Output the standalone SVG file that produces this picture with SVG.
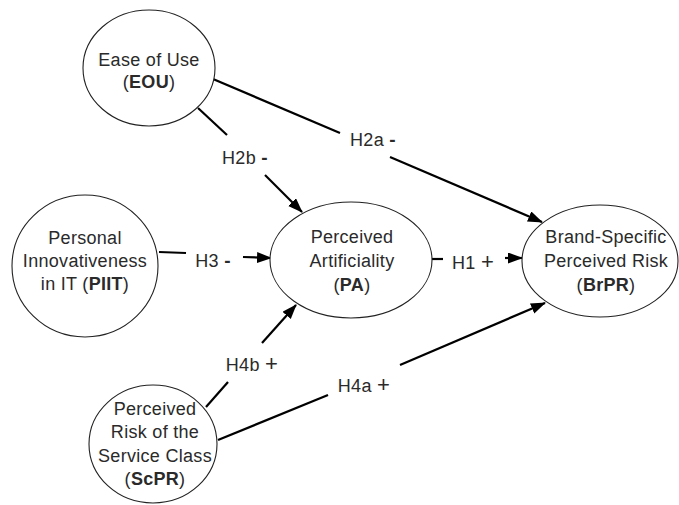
<svg xmlns="http://www.w3.org/2000/svg" width="679" height="505" viewBox="0 0 679 505">
<style>
.node{fill:#fff;stroke:#222;stroke-width:1.1}
text{font-family:"Liberation Sans",Arial,Helvetica,sans-serif;font-size:18px;fill:#2a2a2a;text-anchor:middle;letter-spacing:0.3px}
.b{font-weight:bold}
.p{font-size:22px}
.m{font-weight:bold;font-size:19px}
.c{fill:none;stroke:#000;stroke-width:2.2}
</style>
<defs>
<marker id="ah" markerUnits="userSpaceOnUse" markerWidth="16" markerHeight="12" refX="14" refY="5.5" orient="auto">
<path d="M0,0 L15,5.5 L0,11 z" fill="#000"/>
</marker>
</defs>
<rect width="679" height="505" fill="#fff"/>
<g id="connectors">
<line class="c" x1="213" y1="79" x2="340" y2="133"/>
<line class="c" x1="390" y1="157" x2="542" y2="222" marker-end="url(#ah)"/>
<line class="c" x1="198" y1="108" x2="227" y2="135"/>
<line class="c" x1="265" y1="175" x2="302" y2="212" marker-end="url(#ah)"/>
<line class="c" x1="159" y1="252" x2="186" y2="253"/>
<line class="c" x1="243" y1="257" x2="271" y2="258" marker-end="url(#ah)"/>
<line class="c" x1="432" y1="259" x2="443" y2="259"/>
<line class="c" x1="505" y1="258" x2="522" y2="258" marker-end="url(#ah)"/>
<line class="c" x1="206" y1="407" x2="228" y2="382"/>
<line class="c" x1="262" y1="343" x2="296" y2="305" marker-end="url(#ah)"/>
<line class="c" x1="218" y1="440" x2="328" y2="395"/>
<line class="c" x1="400" y1="365" x2="545" y2="303" marker-end="url(#ah)"/>
<text x="245" y="164">H2b <tspan class="m">-</tspan></text>
<text x="373" y="146">H2a <tspan class="m">-</tspan></text>
<text x="213" y="267">H3 <tspan class="m">-</tspan></text>
<text x="473" y="269">H1 <tspan class="p">+</tspan></text>
<text x="252" y="371">H4b <tspan class="p">+</tspan></text>
<text x="364" y="392">H4a <tspan class="p">+</tspan></text>
</g>
<g id="EOU">
<ellipse class="node" cx="149" cy="68" rx="66" ry="58"/>
<text x="149" y="66">Ease of Use</text>
<text x="149" y="88">(<tspan class="b">EOU</tspan>)</text>
</g>
<g id="PIIT">
<ellipse class="node" cx="85" cy="266" rx="73" ry="71"/>
<text x="85" y="244">Personal</text>
<text x="85" y="267">Innovativeness</text>
<text x="85" y="290">in IT (<tspan class="b">PIIT</tspan>)</text>
</g>
<g id="PA">
<ellipse class="node" cx="351" cy="260" rx="81" ry="58"/>
<text x="352" y="243">Perceived</text>
<text x="352" y="267">Artificiality</text>
<text x="352" y="291">(<tspan class="b">PA</tspan>)</text>
</g>
<g id="BrPR">
<ellipse class="node" cx="600" cy="261" rx="78" ry="56"/>
<text x="606" y="243">Brand-Specific</text>
<text x="606" y="267">Perceived Risk</text>
<text x="606" y="291">(<tspan class="b">BrPR</tspan>)</text>
</g>
<g id="ScPR">
<ellipse class="node" cx="153" cy="444" rx="64" ry="59"/>
<text x="155" y="415">Perceived</text>
<text x="155" y="438">Risk of the</text>
<text x="155" y="462">Service Class</text>
<text x="155" y="485">(<tspan class="b">ScPR</tspan>)</text>
</g>
</svg>
